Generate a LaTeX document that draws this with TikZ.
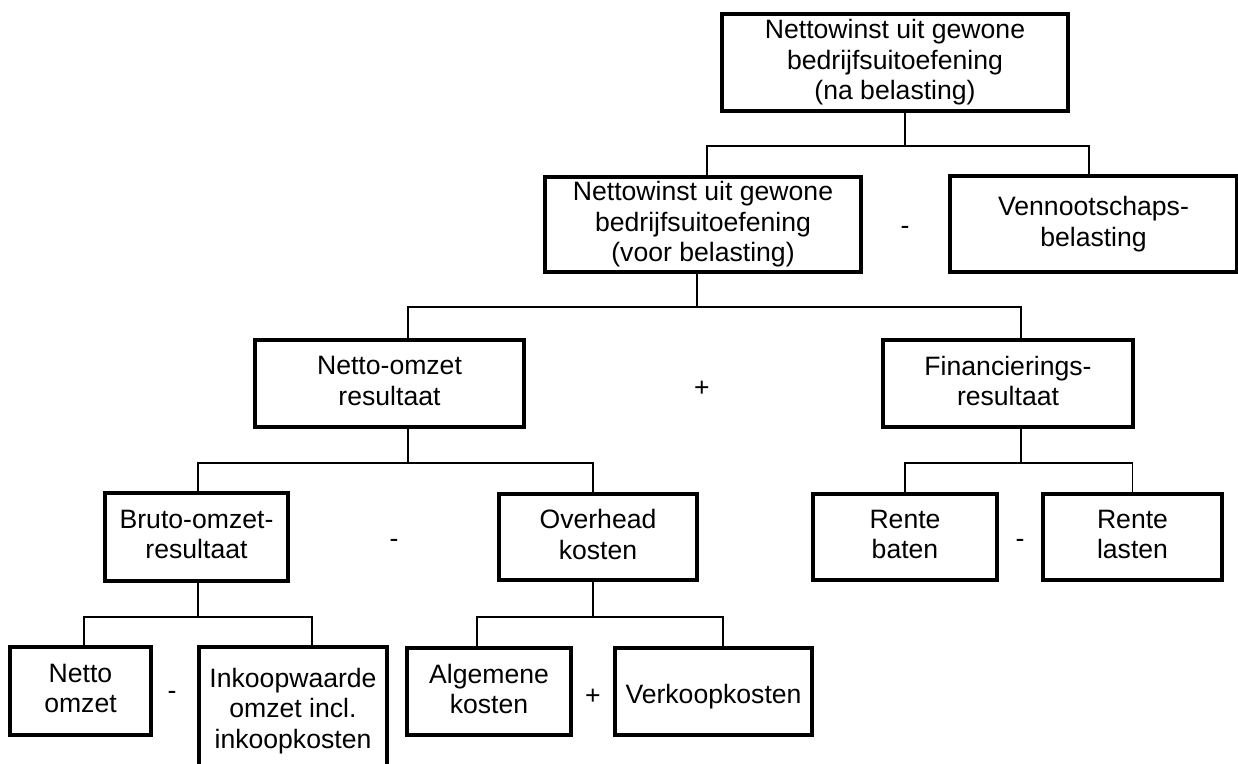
\documentclass[tikz,border=0pt]{standalone}
\usepackage{fontspec}
\setmainfont{Liberation Sans}
\newcommand\dgfont{\fontsize{26.6}{30.5}\selectfont}
\begin{document}
\begin{tikzpicture}[x=1pt,y=-1pt,
  box/.style={draw,line width=4pt,align=center,inner sep=0pt,font=\dgfont,
    execute at begin node={\rule{0pt}{30pt}},
    execute at end node={\rule[-5.6pt]{0pt}{0pt}}},
  conn/.style={line width=1.3pt},
  op/.style={anchor=base,inner sep=0pt,font=\dgfont}]
\useasboundingbox (0,0) rectangle (1238,763);
\clip (0,0) rectangle (1238,763);
% boxes
\node[box,minimum width=346pt,minimum height=97pt] (top) at (895,62.5) {Nettowinst uit gewone\\bedrijfsuitoefening\\(na belasting)};
\node[box,minimum width=316pt,minimum height=95pt] (pre) at (703,224.5) {Nettowinst uit gewone\\bedrijfsuitoefening\\(voor belasting)};
\node[box,minimum width=287pt,minimum height=96pt] (vpb) at (1093.5,224) {Vennootschaps-\\belasting};
\node[box,minimum width=269pt,minimum height=87pt] (nor) at (389.5,383.5) {Netto-omzet\\resultaat};
\node[box,minimum width=250pt,minimum height=87pt] (fin) at (1008,383.5) {Financierings-\\resultaat};
\node[box,minimum width=183pt,minimum height=88pt] (bruto) at (196.5,537) {Bruto-omzet-\\resultaat};
\node[box,minimum width=198pt,minimum height=86pt] (ovh) at (598,537) {Overhead\\kosten};
\node[box,minimum width=184pt,minimum height=86pt] (rb) at (905,537) {Rente\\baten};
\node[box,minimum width=179pt,minimum height=86pt] (rl) at (1132.5,537) {Rente\\lasten};
\node[box,minimum width=141pt,minimum height=88pt] (no) at (80.5,691) {Netto\\omzet};
\node[box,minimum width=188pt,minimum height=128pt] (ink) at (293,711) {Inkoopwaarde\\omzet incl.\\inkoopkosten};
\node[box,minimum width=164pt,minimum height=87pt] (alg) at (489,691.5) {Algemene\\kosten};
\node[box,minimum width=197pt,minimum height=87pt] (vk) at (713.5,691.5) {Verkoopkosten};
% operators
\node[op] (o1) at (905,234) {-};
\node[op] (o2) at (702,396) {+};
\node[op] (o3) at (394,547) {-};
\node[op] (o4) at (1020,547) {-};
\node[op] (o5) at (172,699) {-};
\node[op] (o6) at (593,704) {+};
% connectors
\coordinate (j1) at ([xshift=10pt,yshift=-33pt]top.south);
\draw[conn] ([xshift=10pt]top.south) -- (j1);
\draw[conn] ([xshift=4pt]pre.north) |- (j1) -| ([xshift=-4.5pt]vpb.north);
\coordinate (j2) at ([xshift=-6pt,yshift=-33pt]pre.south);
\draw[conn] ([xshift=-6pt]pre.south) -- (j2);
\draw[conn] ([xshift=18.5pt]nor.north) |- (j2) -| ([xshift=13pt]fin.north);
\coordinate (j3) at ([xshift=18.5pt,yshift=-34pt]nor.south);
\draw[conn] ([xshift=18.5pt]nor.south) -- (j3);
\draw[conn] ([xshift=1.5pt]bruto.north) |- (j3) -| ([xshift=-5pt]ovh.north);
\coordinate (j4) at ([xshift=13pt,yshift=-34pt]fin.south);
\draw[conn] ([xshift=13pt]fin.south) -- (j4);
\draw[conn] (rb.north) |- (j4) -| (rl.north);
\coordinate (j5) at ([xshift=1.5pt,yshift=-34pt]bruto.south);
\draw[conn] ([xshift=1.5pt]bruto.south) -- (j5);
\draw[conn] ([xshift=3.5pt]no.north) |- (j5) -| ([xshift=19pt]ink.north);
\coordinate (j6) at ([xshift=-5pt,yshift=-35pt]ovh.south);
\draw[conn] ([xshift=-5pt]ovh.south) -- (j6);
\draw[conn] ([xshift=-12pt]alg.north) |- (j6) -| ([xshift=9.5pt]vk.north);
\end{tikzpicture}
\end{document}
